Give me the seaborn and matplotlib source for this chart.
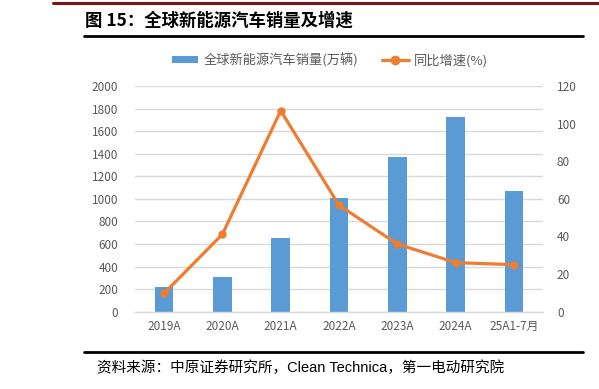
import matplotlib
matplotlib.use("Agg")
import matplotlib.pyplot as plt
import seaborn as sns
import pandas as pd
from matplotlib.lines import Line2D
from matplotlib.patches import Patch

categories = ["2019A", "2020A", "2021A", "2022A", "2023A", "2024A", "25A1-7月"]
sales = [221, 310, 651, 1011, 1367, 1723, 1067]
growth = [9.8, 41.2, 106.9, 56.6, 36.0, 26.1, 25.0]
left_ticks = [0, 200, 400, 600, 800, 1000, 1200, 1400, 1600, 1800, 2000]
right_ticks = [0, 20, 40, 60, 80, 100, 120]

title = "图 15：全球新能源汽车销量及增速"
bar_label = "全球新能源汽车销量(万辆)"
line_label = "同比增速(%)"
source = "资料来源：中原证券研究所，Clean Technica，第一电动研究院"

BLUE = "#5B9BD5"
ORANGE = "#ED7D31"
GREY = "#595959"
GRID = "#D9D9D9"

sns.set_theme(style="white")
plt.rcParams["font.family"] = ["Noto Sans CJK SC", "DejaVu Sans"]

df = pd.DataFrame({"cat": categories, "sales": sales, "growth": growth})

W, H = 599, 389
fig = plt.figure(figsize=(W / 100, H / 100), dpi=100)
ax = fig.add_axes([135 / W, 1 - 311.7 / H, 408 / W, (311.7 - 86) / H])

sns.barplot(data=df, x="cat", y="sales", color=BLUE, width=0.32, ax=ax,
            saturation=1, linewidth=0, zorder=2)
ax.set_xlim(-0.5, len(categories) - 0.5)
ax.set_ylim(0, 2000)
ax.set_yticks(left_ticks)
ax.yaxis.grid(True, color=GRID, linewidth=1.0, zorder=0)
ax.set_axisbelow(True)
for s in ["top", "right", "left"]:
    ax.spines[s].set_visible(False)
ax.spines["bottom"].set_color(GRID)
ax.spines["bottom"].set_linewidth(1.0)
ax.set_xlabel("")
ax.set_ylabel("")
ax.tick_params(axis="y", length=0, pad=12, labelsize=8.5, labelcolor=GREY)
ax.tick_params(axis="x", length=0, pad=6, labelsize=8.5, labelcolor=GREY)

ax2 = ax.twinx()
sns.lineplot(data=df, x="cat", y="growth", sort=False, color=ORANGE,
             linewidth=2.3, marker="o", markersize=6, markeredgewidth=0, ax=ax2, zorder=3)
ax2.set_ylim(0, 120)
ax2.set_yticks(right_ticks)
ax2.set_xlim(-0.5, len(categories) - 0.5)
for s in ["top", "right", "left", "bottom"]:
    ax2.spines[s].set_visible(False)
ax2.set_ylabel("")
ax2.set_xlabel("")
ax2.tick_params(axis="y", length=0, pad=10, labelsize=8.5, labelcolor=GREY)

handles = [Patch(facecolor=BLUE, edgecolor="none"),
           Line2D([0], [0], color=ORANGE, linewidth=2.3, marker="o", markersize=6)]
fig.legend(handles, [bar_label, line_label], loc="center", bbox_to_anchor=(0.551, 1 - 60 / H),
           ncol=2, frameon=False, fontsize=9.5, labelcolor=GREY, handlelength=2.0,
           handleheight=0.55, columnspacing=1.8, handletextpad=0.4)

# decorative rules and texts
fig.add_artist(Line2D([53 / W, 1.0], [1 - 3 / H, 1 - 3 / H], color="#7F1416", linewidth=2.2))
fig.add_artist(Line2D([84 / W, 583 / W], [1 - 36 / H, 1 - 36 / H], color="black", linewidth=2.0))
fig.add_artist(Line2D([84 / W, 583 / W], [1 - 351.7 / H, 1 - 351.7 / H], color="black", linewidth=2.0))
fig.text(85 / W, 1 - 21 / H, title, fontsize=12.5, fontweight="bold", va="center", ha="left", color="black")
fig.text(97 / W, 1 - 368 / H, source, fontsize=10.5, va="center", ha="left", color="black",
         family=["Liberation Sans", "Noto Sans CJK SC"])

fig.savefig("out.png", dpi=100)
